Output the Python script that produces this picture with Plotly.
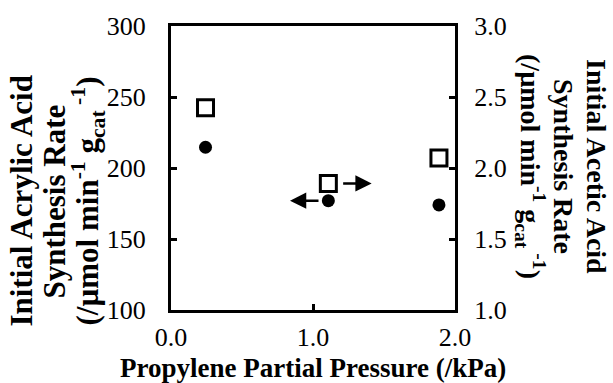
import plotly.graph_objects as go

# Data
pressure = [0.243, 1.108, 1.887]           # propylene partial pressure (kPa)
acrylic_rate = [214.6, 177.0, 174.0]       # left axis
acetic_rate = [2.425, 1.891, 2.07]         # right axis

x_ticks = [0.0, 1.0, 2.0]
y_ticks = [100, 150, 200, 250, 300]
y2_ticks = [1.0, 1.5, 2.0, 2.5, 3.0]

left_title = ["Initial Acrylic Acid", "Synthesis Rate",
              "(/µmol min<sup>-1</sup> g<sub>cat</sub><sup> -1</sup>)"]
right_title = ["Initial Acetic Acid", "Synthesis Rate",
               "(/µmol min<sup>-1</sup> g<sub>cat</sub><sup> -1</sup>)"]
x_title = "Propylene Partial Pressure (/kPa)"

FONT = "Liberation Serif"
TICKF = dict(family=FONT, size=26, color="black")

# plot area in pixels
L, R, T, B = 171, 158, 22, 73
W, H = 613 - L - R, 383 - T - B

def px(xp):
    return (xp - L) / W

def py(yp):
    return 1 - (yp - T) / H

fig = go.Figure()
fig.add_trace(go.Scatter(
    x=pressure, y=acrylic_rate, mode="markers",
    marker=dict(symbol="circle", size=13, color="black"),
    showlegend=False, yaxis="y"))
fig.add_trace(go.Scatter(
    x=pressure, y=acetic_rate, mode="markers",
    marker=dict(symbol="square-open", size=16, color="black", line=dict(width=3, color="black")),
    showlegend=False, yaxis="y2"))

# arrows pointing to axes (tail offsets in pixels from the arrow tip)
fig.add_annotation(x=0.838, y=acrylic_rate[1], ax=30, ay=0,
                   xref="x", yref="y", axref="pixel", ayref="pixel", text="",
                   showarrow=True, arrowhead=2, arrowsize=1.3, arrowwidth=2.5, arrowcolor="black")
fig.add_annotation(x=1.413, y=acetic_rate[1], ax=-30, ay=0,
                   xref="x", yref="y2", axref="pixel", ayref="pixel", text="",
                   showarrow=True, arrowhead=2, arrowsize=1.3, arrowwidth=2.5, arrowcolor="black")

axis_common = dict(showgrid=False, zeroline=False, showline=True, linecolor="black",
                   linewidth=3, ticks="inside", ticklen=6, tickwidth=2.5, tickcolor="black",
                   tickfont=TICKF)

fig.update_layout(
    width=613, height=383,
    margin=dict(l=L, r=R, t=T, b=B),
    paper_bgcolor="white", plot_bgcolor="white",
    xaxis=dict(range=[0, 2], tickvals=x_ticks, tickformat=".1f", mirror=True,
               ticklabelstandoff=2, **axis_common),
    yaxis=dict(range=[100, 300], tickvals=y_ticks, ticklabelstandoff=17, **axis_common),
    yaxis2=dict(range=[1, 3], tickvals=y2_ticks, tickformat=".1f", overlaying="y", side="right",
                ticklabelstandoff=11, **axis_common),
)

fig.add_annotation(text="<b>" + x_title + "</b>", xref="paper", yref="paper",
                   x=0.5, y=py(369), xanchor="center", yanchor="middle", showarrow=False,
                   font=dict(family=FONT, size=27, color="black"))

for txt, xp in zip(left_title, [22, 55, 88]):
    fig.add_annotation(text="<b>" + txt + "</b>", xref="paper", yref="paper",
                       x=px(xp), y=py(200), xanchor="center", yanchor="middle",
                       textangle=-90, showarrow=False,
                       font=dict(family=FONT, size=31, color="black"))
for txt, xp in zip(right_title, [597, 564, 531]):
    fig.add_annotation(text="<b>" + txt + "</b>", xref="paper", yref="paper",
                       x=px(xp), y=py(164), xanchor="center", yanchor="middle",
                       textangle=90, showarrow=False,
                       font=dict(family=FONT, size=28, color="black"))

fig.write_html("out.html")
